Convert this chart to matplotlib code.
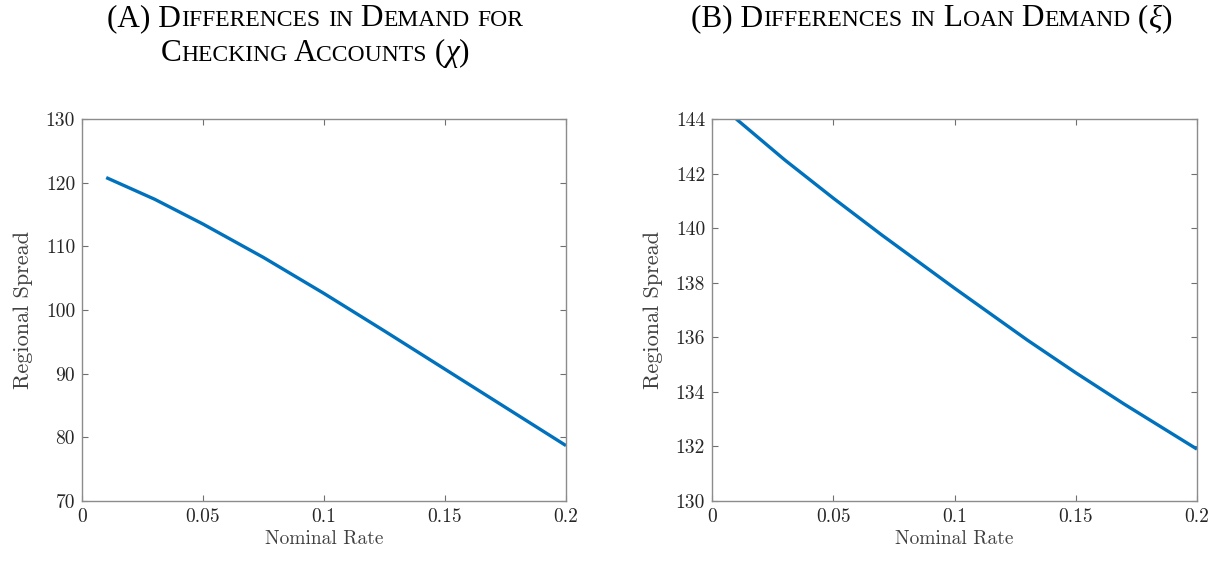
import matplotlib
matplotlib.use('Agg')
import matplotlib.pyplot as plt
from matplotlib.ticker import FormatStrFormatter
from matplotlib.offsetbox import TextArea, HPacker, VPacker, AnnotationBbox

# values
rate_a = [0.01, 0.03, 0.05, 0.075, 0.1, 0.125, 0.15, 0.175, 0.2]
spread_a = [120.8, 117.4, 113.5, 108.25, 102.6, 96.7, 90.7, 84.7, 78.7]

rate_b = [0.01, 0.03, 0.05, 0.07, 0.1, 0.13, 0.15, 0.17, 0.2]
spread_b = [144.0, 142.5, 141.1, 139.75, 137.8, 135.9, 134.7, 133.55, 131.9]

xticks = [0, 0.05, 0.1, 0.15, 0.2]
yticks_a = [70, 80, 90, 100, 110, 120, 130]
yticks_b = [130, 132, 134, 136, 138, 140, 142, 144]

title_a = [[('(A) Differences in Demand for', 'normal')],
           [('Checking Accounts (', 'normal'), ('χ', 'italic'), (')', 'normal')]]
title_b = [[('(B) Differences in Loan Demand (', 'normal'), ('ξ', 'italic'), (')', 'normal')]]

line_color = '#0072BD'
W, H = 1217, 562


def smallcaps_line(segments, big=22.5, small=17):
    # fake small caps: real capitals big, lower case drawn as smaller capitals
    kids = []
    for text, style in segments:
        if style == 'italic':
            kids.append(TextArea(text, textprops=dict(fontsize=big, family='Liberation Serif',
                                                      style='italic', color='black')))
            continue
        run, size = '', None
        for c in text:
            s = small if c.islower() else big
            if size is not None and s != size:
                kids.append(TextArea(run, textprops=dict(fontsize=size, family='Liberation Serif',
                                                         color='black')))
                run = ''
            size = s
            run += c.upper()
        if run:
            kids.append(TextArea(run, textprops=dict(fontsize=size, family='Liberation Serif',
                                                     color='black')))
    return HPacker(children=kids, align='baseline', pad=0, sep=0)


def put_title(fig, lines, xpix, ypix):
    box = VPacker(children=[smallcaps_line(l) for l in lines], align='center', pad=0, sep=4)
    ab = AnnotationBbox(box, (xpix / W, 1 - ypix / H), xycoords='figure fraction',
                        frameon=False, box_alignment=(0.5, 1.0), pad=0)
    fig.add_artist(ab)


def style_axes(ax, yticks):
    ax.set_xlim(0, 0.2)
    ax.set_ylim(yticks[0], yticks[-1])
    ax.set_xticks(xticks)
    ax.set_yticks(yticks)
    ax.xaxis.set_major_formatter(FormatStrFormatter('%g'))
    ax.yaxis.set_major_formatter(FormatStrFormatter('%g'))
    ax.tick_params(direction='in', top=True, right=True, length=4, width=0.8,
                   color='#707070', labelsize=14, labelcolor='#262626', pad=5)
    for s in ax.spines.values():
        s.set_color('#8c8c8c')
        s.set_linewidth(1.0)
    for lab in ax.get_xticklabels() + ax.get_yticklabels():
        lab.set_family('cmr10')
    ax.set_xlabel('Nominal Rate', family='cmr10', fontsize=14, color='#404040', labelpad=3)
    ax.set_ylabel('Regional Spread', family='cmr10', fontsize=16, color='#404040', labelpad=9)


fig = plt.figure(figsize=(W / 100, H / 100), dpi=100)
ax1 = fig.add_axes([82 / W, 1 - 501 / H, 484 / W, 382 / H])
ax2 = fig.add_axes([712 / W, 1 - 501 / H, 485 / W, 382 / H])

ax1.plot(rate_a, spread_a, color=line_color, lw=2.4, solid_capstyle='butt')
style_axes(ax1, yticks_a)

ax2.plot(rate_b, spread_b, color=line_color, lw=2.4, solid_capstyle='butt')
style_axes(ax2, yticks_b)

put_title(fig, title_a, 315, 4)
put_title(fig, title_b, 932, 4)

fig.savefig('out.png', dpi=100)
